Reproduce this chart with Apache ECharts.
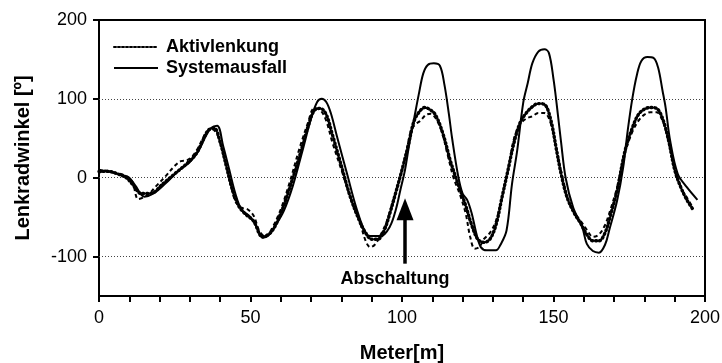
<!DOCTYPE html>
<html>
<head>
<meta charset="utf-8">
<script src="https://cdn.jsdelivr.net/npm/echarts@6/dist/echarts.min.js"></script>
<style>
  html, body { margin: 0; padding: 0; background: #fff; }
  #chart { width: 722px; height: 363px; }
</style>
</head>
<body>
<div id="chart"></div>
<script>
// Steering wheel angle along the track, with and without active steering
const sysX = [0, 2, 5, 8, 10, 12, 15, 18, 22, 26, 30, 33, 35, 37, 39, 41, 43, 45, 47, 50, 52, 54, 56, 58, 61, 64, 67, 70, 72, 73.5, 75, 76.5, 78.5, 82, 85, 88, 90, 93, 96, 98, 99.5, 101, 102.5, 104, 105.5, 107, 108.5, 110.5, 112.5, 114, 115.5, 116.5, 118.5, 120, 121.5, 123, 124.5, 126, 128, 131, 132.5, 134.5, 136.3, 138, 140, 141.5, 143, 145, 147, 148.5, 150, 151, 152.5, 154, 156.5, 159.5, 161, 163, 165, 167, 168.5, 171, 173, 174.5, 176, 177.5, 179, 181, 183, 184.5, 186, 187, 188.5, 191, 194, 197.5];
const sysY = [6, 9, 6, 3, 0, -10, -24, -20, -7, 8, 20, 35, 51, 63, 66, 40, 10, -20, -40, -50, -62, -76, -73, -62, -42, -10, 32, 75, 96, 100, 96, 82, 53, 3, -39, -70, -74, -74, -62, -40, -15, 10, 45, 75, 105, 132, 143, 145, 142, 118, 80, 51, 3, -20, -28, -45, -70, -88, -92, -92, -85, -67, -8, 34, 95, 120, 145, 160, 163, 158, 125, 95, 45, 0, -38, -63, -84, -93, -95, -85, -65, -29, 13, 60, 100, 130, 148, 153, 152, 140, 110, 89, 47, 5, -12, -28];

const aktX = [0, 3, 6, 9, 11, 14, 17, 21, 25, 29, 32, 34, 36, 38, 40, 42, 44, 46, 48, 51, 54, 57, 60, 63, 66, 69, 71, 73, 75, 77, 80, 83, 86, 88, 90, 92, 94, 96, 98, 100, 102, 104, 106, 107.5, 109, 111, 113.5, 116, 118.5, 121, 123, 125, 127, 129, 131, 133, 135, 137, 139, 141, 143, 145, 147, 149, 151, 152.5, 154.5, 157, 159, 161, 163, 165, 167, 169, 171, 173.6, 176, 178, 180, 182, 184, 186, 188, 190, 192, 194, 196];
const aktY = [8, 8, 5, 0, -8, -20, -20, -8, 5, 18, 30, 45, 60, 63, 45, 15, -15, -35, -45, -55, -75, -68, -45, -12, 25, 65, 85, 88, 80, 55, 15, -25, -55, -70, -78, -78, -68, -45, -18, 10, 40, 72, 85, 89, 87, 80, 56, 21, -8, -35, -60, -78, -82, -78, -60, -25, 10, 45, 70, 82, 90, 94, 93, 75, 35, 5, -25, -46, -58, -72, -80, -80, -70, -45, -16, 34, 63, 80, 87, 89, 88, 75, 47, 10, -12, -28, -40];

const akt2X = [0, 3, 6, 9, 11, 13, 16, 19, 22, 25, 27, 29, 31, 33, 35, 37, 39, 41, 43, 45, 47, 49, 51, 53, 55, 57, 60, 63, 66, 69, 71, 73, 75, 77, 80, 83, 86, 88, 89.5, 91, 93, 95, 97, 99, 101, 103, 104.5, 106, 108, 109.5, 111, 113, 115, 117, 119, 121, 122.5, 124, 125.5, 127, 129, 131, 133, 135, 137, 139, 141, 143, 145, 147, 149, 151, 153, 155, 157, 159, 161, 163, 165, 167, 169, 171, 173.5, 176, 178, 180, 182, 184, 186, 188, 190, 192, 194, 196];
const akt2Y = [10, 8, 6, 2, -5, -27, -22, -10, 2, 15, 21, 22, 28, 40, 55, 62, 55, 30, 0, -30, -38, -40, -48, -68, -75, -65, -40, -5, 35, 70, 88, 86, 72, 45, 10, -25, -55, -80, -88, -85, -72, -55, -30, -5, 25, 60, 68, 72, 80, 81, 76, 60, 30, 0, -20, -45, -75, -90, -88, -78, -70, -55, -25, 10, 50, 68, 75, 78, 82, 82, 70, 35, 0, -30, -45, -55, -66, -75, -72, -60, -38, -12, 30, 58, 72, 80, 83, 83, 72, 45, 10, -12, -25, -38];

const yTicks = [-100, 0, 100, 200];
const gridValues = [-100, 0, 100];
const xTicks = [0, 50, 100, 150, 200];

// Arrow marking the switch-off point (shaft start, arrow-head centre)
const cutoffX = 101;
const cutoffFrom = -109;
const cutoffTo = -40;
const cutoffLabel = 'Abschaltung';

const zip = (xs, ys) => xs.map((x, i) => [x, ys[i]]);
const FONT = 'Liberation Sans, Arial, sans-serif';

const chart = echarts.init(document.getElementById('chart'));
chart.setOption({
  animation: false,
  backgroundColor: '#ffffff',
  grid: {
    left: 99, right: 17, top: 20, bottom: 67,
    outerBoundsMode: 'none',
    containLabel: false,
    show: true, borderColor: '#000', borderWidth: 2
  },
  legend: {
    orient: 'vertical',
    left: 108, top: 33,
    itemWidth: 44, itemHeight: 14, itemGap: 3,
    itemStyle: { opacity: 0 },
    data: [
      { name: 'Aktivlenkung', lineStyle: { width: 2, type: [2, 2] } },
      { name: 'Systemausfall', lineStyle: { width: 2, type: 'solid' } }
    ],
    textStyle: { fontFamily: FONT, fontSize: 18, fontWeight: 'bold', color: '#000', padding: [0, 0, 0, 3], lineHeight: 18 }
  },
  xAxis: {
    type: 'value', min: 0, max: 200, interval: 10,
    name: 'Meter[m]', nameLocation: 'middle', nameGap: 47,
    nameTextStyle: { fontFamily: FONT, fontSize: 20, fontWeight: 'bold', color: '#000' },
    axisLine: { show: true, onZero: false, lineStyle: { color: '#000', width: 2 } },
    axisTick: { show: true, length: 6, lineStyle: { color: '#000', width: 2 } },
    axisLabel: {
      fontFamily: FONT, fontSize: 18, color: '#000', margin: 13,
      customValues: xTicks
    },
    splitLine: { show: false }
  },
  yAxis: {
    type: 'value', min: -150, max: 200, interval: 50,
    name: 'Lenkradwinkel [º]', nameLocation: 'middle', nameGap: 66,
    nameTextStyle: { fontFamily: FONT, fontSize: 20, fontWeight: 'bold', color: '#000' },
    axisLine: { show: true, onZero: false, lineStyle: { color: '#000', width: 2 } },
    axisTick: { show: true, length: 6, lineStyle: { color: '#000', width: 2 }, customValues: yTicks },
    axisLabel: {
      fontFamily: FONT, fontSize: 18, color: '#000', margin: 12,
      customValues: yTicks
    },
    splitLine: { show: false }
  },
  series: [
    {
      name: 'Aktivlenkung2',
      type: 'line', smooth: 0.35, showSymbol: false, symbol: 'none',
      data: zip(akt2X, akt2Y),
      itemStyle: { color: '#000' },
      lineStyle: { color: '#000', width: 2, type: [4, 3] },
      z: 3
    },
    {
      name: 'Aktivlenkung',
      type: 'line', smooth: 0.35, showSymbol: false, symbol: 'none',
      data: zip(aktX, aktY),
      itemStyle: { color: '#000' },
      lineStyle: { color: '#000', width: 3.4, type: [1, 3], cap: 'round' },
      z: 4
    },
    {
      name: 'Systemausfall',
      type: 'line', smooth: 0.35, showSymbol: false, symbol: 'none',
      data: zip(sysX, sysY),
      itemStyle: { color: '#000' },
      lineStyle: { color: '#000', width: 2 },
      z: 5,
      markLine: {
        silent: true,
        symbol: 'none',
        label: { show: false },
        lineStyle: { color: '#444', width: 1, type: [1, 2] },
        data: gridValues.map(v => ({ yAxis: v })),
        z: 1
      }
    },
    {
      name: 'cutoff',
      type: 'line', data: [], showSymbol: false,
      markLine: {
        silent: true,
        symbol: ['none', 'triangle'],
        symbolSize: [17, 22],
        lineStyle: { color: '#000', width: 3.5, type: 'solid' },
        label: {
          show: true, position: 'start', formatter: cutoffLabel,
          fontFamily: FONT, fontSize: 18, fontWeight: 'bold', color: '#000',
          distance: 6, offset: [-10, 0]
        },
        data: [[{ coord: [cutoffX, cutoffFrom] }, { coord: [cutoffX, cutoffTo] }]],
        z: 6
      }
    }
  ]
});
</script>
</body>
</html>
